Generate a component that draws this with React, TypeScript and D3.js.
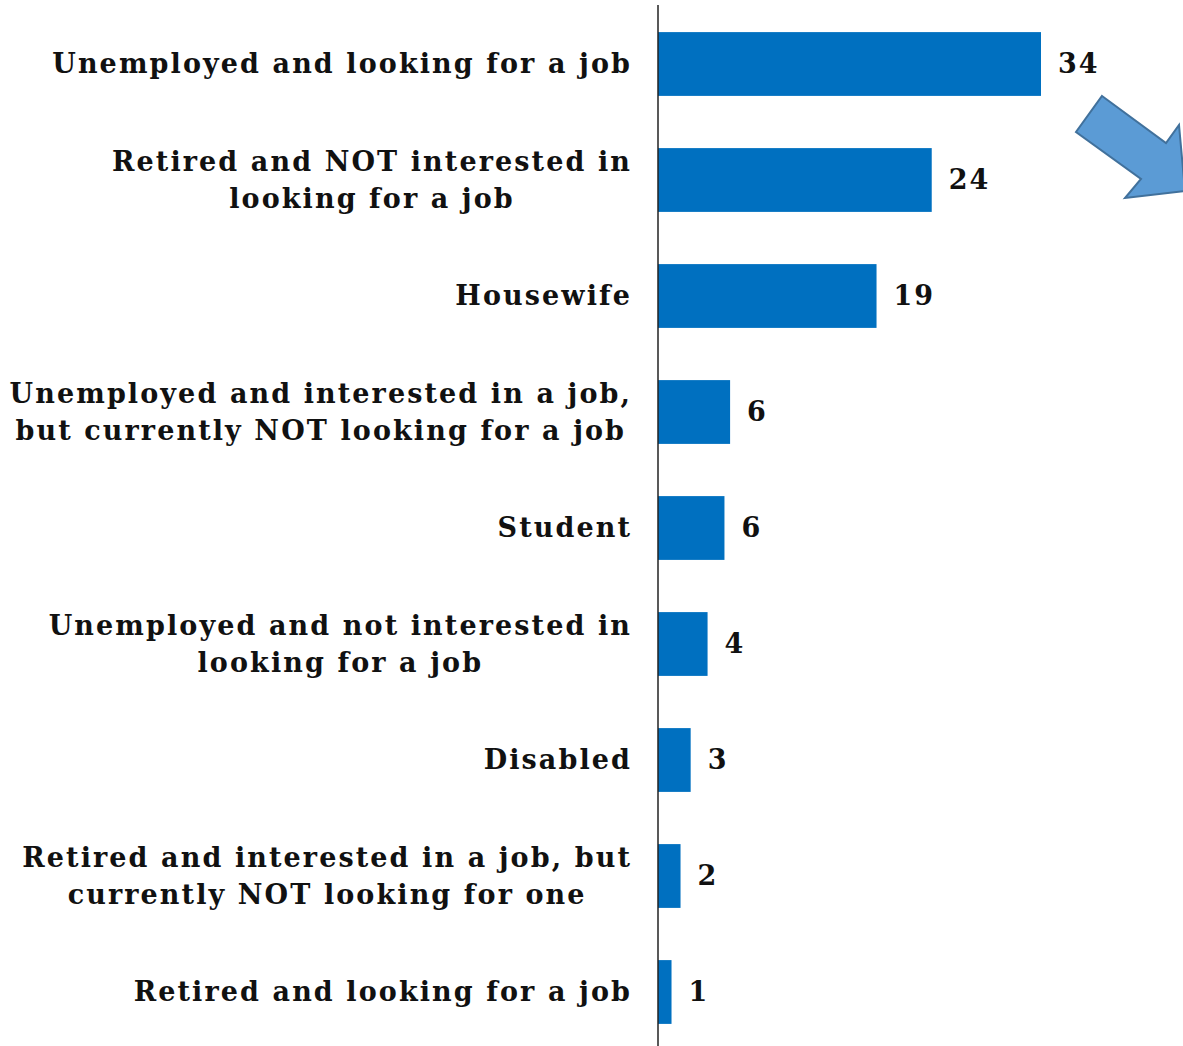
import React, { useEffect, useRef } from "react";
import * as d3 from "d3";

const categories: string[][] = [
  ["Unemployed and looking for a job"],
  ["Retired and NOT interested in", "looking for a job"],
  ["Housewife"],
  ["Unemployed and interested in a job,", "but currently NOT looking for a job"],
  ["Student"],
  ["Unemployed and not interested in", "looking for a job"],
  ["Disabled"],
  ["Retired and interested in a job, but", "currently NOT looking for one"],
  ["Retired and looking for a job"],
];
const values: number[] = [34, 24.3, 19.4, 6.4, 5.9, 4.4, 2.9, 2.0, 1.2];

const W = 1183;
const H = 1046;
const AXIS_X = 658;
const FONT = "'DejaVu Serif', serif";

export default function App() {
  const ref = useRef<SVGSVGElement>(null);
  useEffect(() => {
    const svg = d3.select(ref.current);
    svg.selectAll("*").remove();
    const ids = categories.map((_, i) => String(i));
    const y = d3.scaleBand<string>().domain(ids).range([6, 1050]).paddingInner(0.45).paddingOuter(0.225);
    const x = d3.scaleLinear().domain([0, 34]).range([AXIS_X, 1041]);

    svg.selectAll("rect.bar").data(values).enter().append("rect")
      .attr("x", x(0)).attr("y", (_, i) => y(String(i))!)
      .attr("width", (d) => x(d) - x(0)).attr("height", y.bandwidth())
      .attr("fill", "#0070C0");

    svg.append("line").attr("x1", AXIS_X).attr("x2", AXIS_X).attr("y1", 5).attr("y2", H)
      .attr("stroke", "#222").attr("stroke-width", 1.5);

    svg.selectAll("text.val").data(values).enter().append("text")
      .attr("x", (d) => x(d) + 17).attr("y", (_, i) => y(String(i))! + y.bandwidth() / 2)
      .attr("dy", "0.35em").attr("font-family", FONT).attr("font-weight", "bold")
      .attr("letter-spacing", 2)
      .attr("font-size", 27).attr("fill", "#111").text((d) => d3.format(".0f")(d));

    const RIGHT = 632;
    categories.forEach((lines, i) => {
      const cy = y(String(i))! + y.bandwidth() / 2;
      const g = svg.append("g");
      const texts = lines.map((l, j) =>
        g.append("text").attr("font-family", FONT).attr("font-weight", "bold")
          .attr("font-size", 27).attr("letter-spacing", 2.1).attr("fill", "#111").attr("text-anchor", "middle")
          .attr("dy", "0.35em").attr("y", cy + (j - (lines.length - 1) / 2) * 37).text(l)
      );
      const maxW = d3.max(texts, (t) => (t.node() as SVGTextElement).getComputedTextLength()) || 0;
      texts.forEach((t) => t.attr("x", RIGHT - maxW / 2));
    });

    const arrow = [
      [1102, 96], [1166, 143], [1179, 125], [1185, 191], [1125, 198], [1141, 179], [1076, 132],
    ];
    svg.append("path").attr("d", d3.line()(arrow as [number, number][])! + "Z")
      .attr("fill", "#5B9BD5").attr("stroke", "#41719C").attr("stroke-width", 2)
      .attr("stroke-linejoin", "miter");
  }, []);
  return (
    <svg ref={ref} width={W} height={H} style={{ position: "absolute", left: 0, top: 0, background: "#fff" }} />
  );
}
